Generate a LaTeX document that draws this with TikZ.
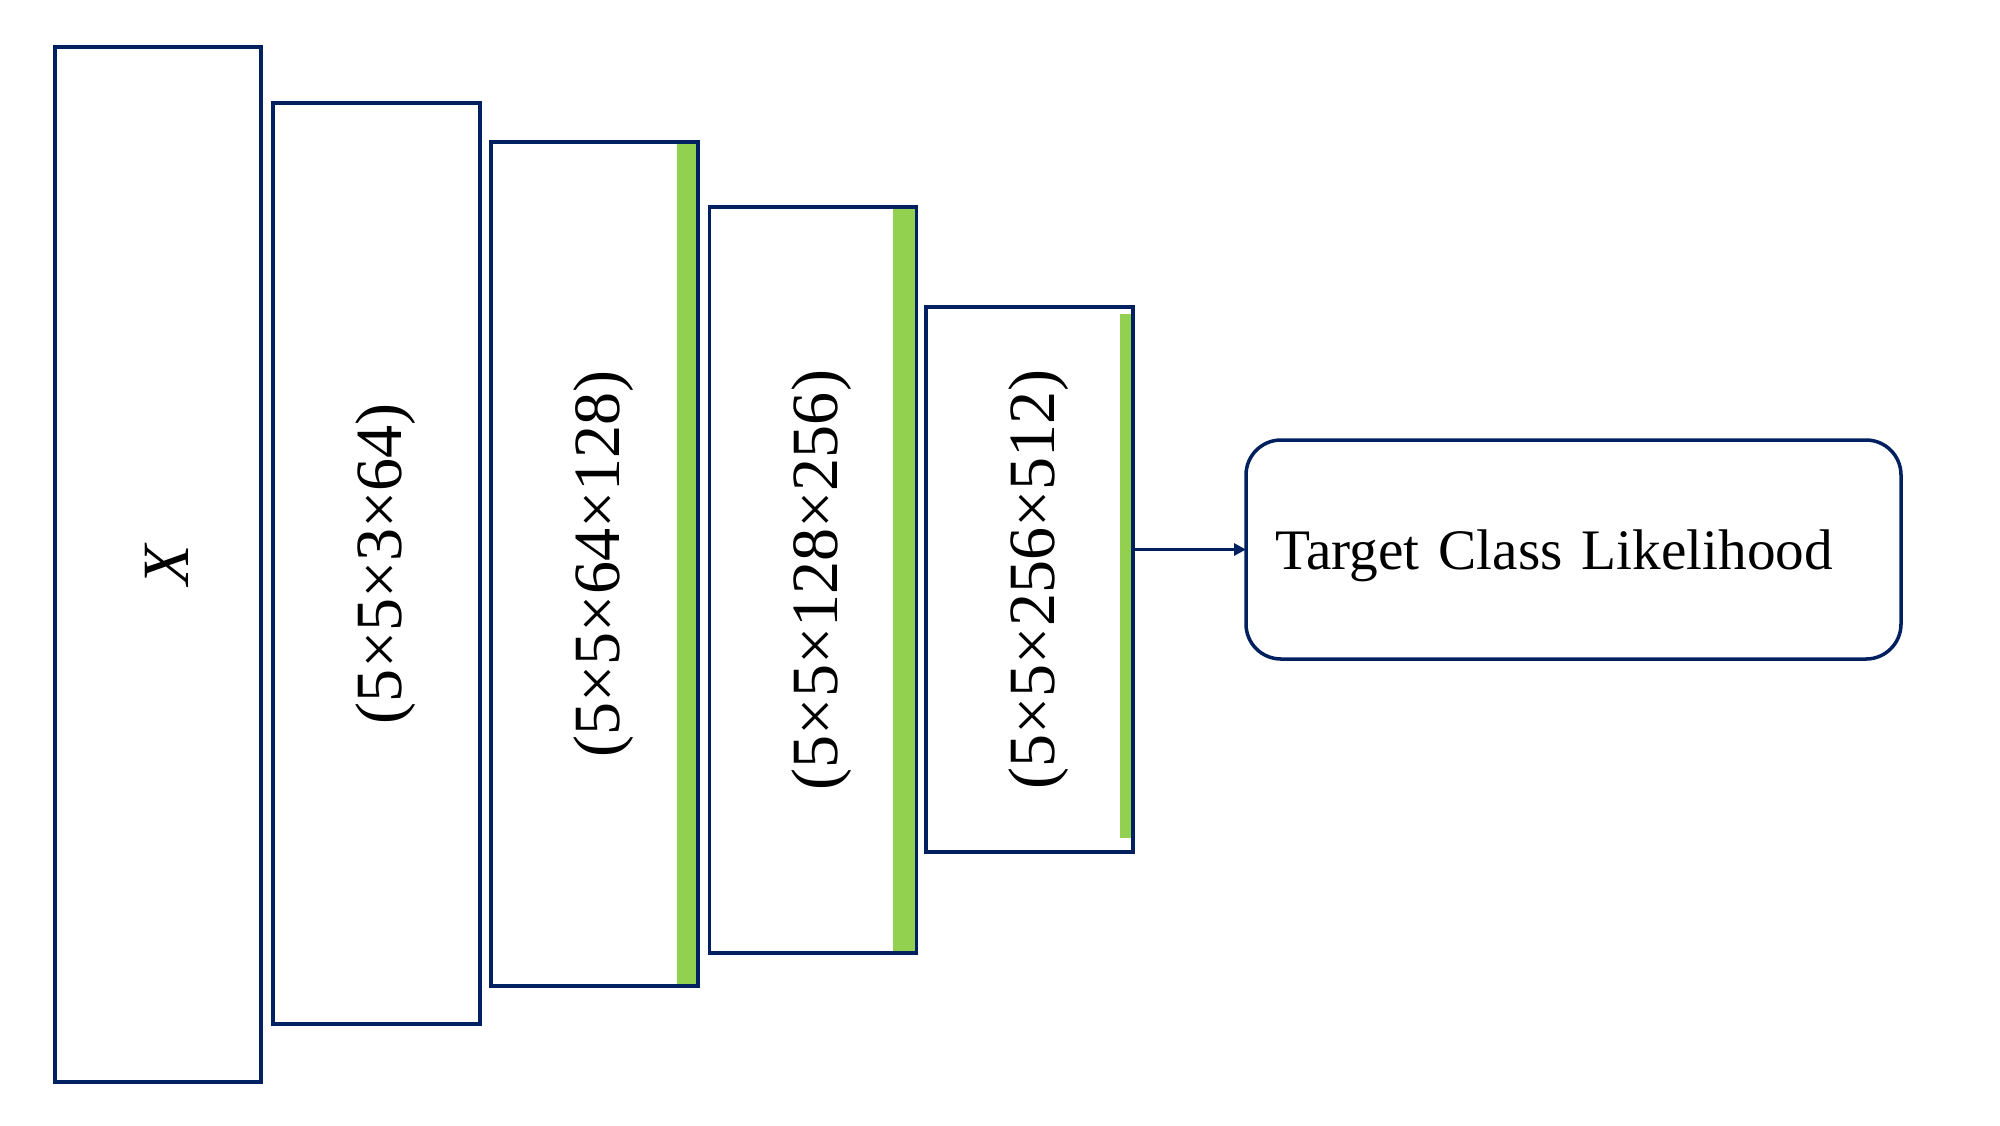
\documentclass[tikz,border=0pt]{standalone}
\usepackage{fontspec}
\setmainfont{Liberation Serif}
\usepackage{tikz}
\usetikzlibrary{arrows.meta}
\definecolor{navy}{HTML}{002060}
\definecolor{leaf}{HTML}{92D050}
\tikzset{
  layer/.style={draw=navy, line width=1pt, outer sep=0pt, inner sep=0pt},
  bar/.style={fill=leaf},
  lab/.style={text=black, font=\fontsize{18.8}{22}\selectfont, xshift=0.09cm, rotate=90},
  outbox/.style={draw=navy, line width=1pt, rounded corners=0.35cm, outer sep=0pt,
    inner xsep=0.29cm, inner ysep=0pt, text width=5.97cm, text depth=0pt, align=left,
    minimum height=2.19cm, font=\fontsize{16.3}{20}\selectfont},
  arr/.style={draw=navy, line width=1pt, -{Triangle[length=0.12cm,width=0.12cm]}},
}
\begin{document}
\begin{tikzpicture}
  \useasboundingbox (0,0) rectangle (20,-11.25);

  % layer boxes
  \node[layer,minimum width=2.06cm,minimum height=10.35cm,
    label={[lab]center:\textit{X}}] (x) at (1.58,-5.645) {};
  \node[layer,minimum width=2.07cm,minimum height=9.21cm,
    label={[lab]center:(5×5×3×64)}] (l1) at (3.765,-5.635) {};
  \node[layer,minimum width=2.07cm,minimum height=8.44cm,
    label={[lab]center:(5×5×64×128)}] (l2) at (5.945,-5.64) {};
  \node[layer,minimum width=2.07cm,minimum height=7.46cm,
    label={[lab]center:(5×5×128×256)}] (l3) at (8.13,-5.80) {};
  \node[layer,minimum width=2.07cm,minimum height=5.45cm,
    label={[lab]center:(5×5×256×512)}] (l4) at (10.295,-5.795) {};

  % green bars
  \fill[bar] ([xshift=-0.215cm,yshift=-0.018cm]l2.north east) rectangle ([xshift=-0.018cm,yshift=0.018cm]l2.south east);
  \fill[bar] ([xshift=-0.235cm,yshift=-0.018cm]l3.north east) rectangle ([xshift=-0.018cm,yshift=0.018cm]l3.south east);
  \fill[bar] ([xshift=-0.13cm,yshift=-0.07cm]l4.north east) rectangle ([xshift=-0.018cm,yshift=0.14cm]l4.south east);

  % output
  \node[outbox] (tcl) at (15.735,-5.495) {Target Class Likelihood};
  \draw[arr] (tcl.west -| l4.east) -- (tcl.west);
\end{tikzpicture}
\end{document}
